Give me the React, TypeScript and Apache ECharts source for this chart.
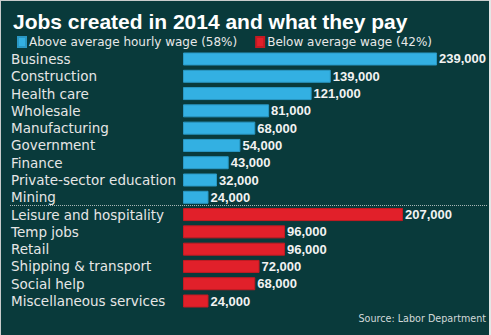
import React, { useEffect, useRef } from "react";
import * as echarts from "echarts";

const categories = [
  "Business",
  "Construction",
  "Health care",
  "Wholesale",
  "Manufacturing",
  "Government",
  "Finance",
  "Private-sector education",
  "Mining",
  "Leisure and hospitality",
  "Temp jobs",
  "Retail",
  "Shipping & transport",
  "Social help",
  "Miscellaneous services",
];

const aboveValues = [239000, 139000, 121000, 81000, 68000, 54000, 43000, 32000, 24000];
const belowValues = [207000, 96000, 96000, 72000, 68000, 24000];

const aboveName = "Above average hourly wage (58%)";
const belowName = "Below average wage (42%)";
const titleText = "Jobs created in 2014 and what they pay";
const sourceText = "Source: Labor Department";

export default function App() {
  const ref = useRef<HTMLDivElement>(null);

  useEffect(() => {
    if (!ref.current) return;
    const chart = echarts.init(ref.current, null, { renderer: "svg" });

    const aboveData = categories.map((_, i) => (i < aboveValues.length ? aboveValues[i] : "-"));
    const belowData = categories.map((_, i) =>
      i >= aboveValues.length ? belowValues[i - aboveValues.length] : "-"
    );

    const labelCfg = {
      show: true,
      position: "right" as const,
      distance: 2,
      formatter: (p: any) => Number(p.value).toLocaleString("en-US"),
      fontFamily: "Liberation Sans",
      fontWeight: "bold" as const,
      fontSize: 13,
      color: "#f2f2f2",
    };

    chart.setOption({
      animation: false,
      backgroundColor: "#093a3b",
      title: {
        text: titleText,
        left: 8,
        top: 6,
        textStyle: {
          fontFamily: "Liberation Sans",
          fontWeight: "bold",
          fontSize: 21,
          color: "#ffffff",
        },
      },
      legend: {
        data: [aboveName, belowName],
        left: 12,
        top: 31,
        icon: "rect",
        itemWidth: 8,
        itemHeight: 10,
        itemGap: 18,
        selectedMode: false,
        textStyle: {
          fontFamily: "DejaVu Sans",
          fontSize: 12,
          color: "#e8e8e8",
          padding: [0, 0, 0, -2],
        },
      },
      grid: {
        left: 183,
        top: 50.35,
        width: 265.75,
        height: 259.3,
      },
      xAxis: {
        type: "value",
        min: 0,
        max: 250000,
        show: false,
      },
      yAxis: {
        type: "category",
        inverse: true,
        data: categories,
        axisLine: { show: false },
        axisTick: { show: false },
        splitLine: { show: false },
        axisLabel: {
          interval: 0,
          align: "left",
          margin: 172,
          fontFamily: "DejaVu Sans",
          fontSize: 13.5,
          color: "#e6e6e6",
        },
      },
      series: [
        {
          name: aboveName,
          type: "bar",
          data: aboveData,
          barWidth: 13,
          barGap: "-100%",
          itemStyle: { color: "#33b0e2", borderColor: "#2a98c4", borderWidth: 1 },
          label: labelCfg,
        },
        {
          name: belowName,
          type: "bar",
          data: belowData,
          barWidth: 13,
          barGap: "-100%",
          itemStyle: { color: "#e1202a", borderColor: "#c41a22", borderWidth: 1 },
          label: labelCfg,
        },
      ],
      graphic: [
        {
          type: "line",
          shape: { x1: 10, y1: 205.5, x2: 488, y2: 205.5 },
          style: { stroke: "#a9b6b6", lineWidth: 1, lineDash: [1, 1] },
          silent: true,
        },
        {
          type: "text",
          style: {
            text: sourceText,
            x: 486,
            y: 318,
            align: "right",
            verticalAlign: "middle",
            fontFamily: "DejaVu Sans",
            fontSize: 9.6,
            fill: "#d2d9d9",
          },
          silent: true,
        },
        {
          type: "line",
          shape: { x1: 0, y1: 0.5, x2: 491, y2: 0.5 },
          style: { stroke: "#c9cccc", lineWidth: 1 },
          silent: true,
        },
        {
          type: "line",
          shape: { x1: 0.5, y1: 0, x2: 0.5, y2: 335 },
          style: { stroke: "#c9cccc", lineWidth: 1 },
          silent: true,
        },
        {
          type: "line",
          shape: { x1: 490, y1: 0, x2: 490, y2: 335 },
          style: { stroke: "#e4e6e6", lineWidth: 2 },
          silent: true,
        },
      ],
    });

    return () => chart.dispose();
  }, []);

  return (
    <div
      ref={ref}
      style={{ position: "fixed", left: 0, top: 0, width: 491, height: 335 }}
    />
  );
}
